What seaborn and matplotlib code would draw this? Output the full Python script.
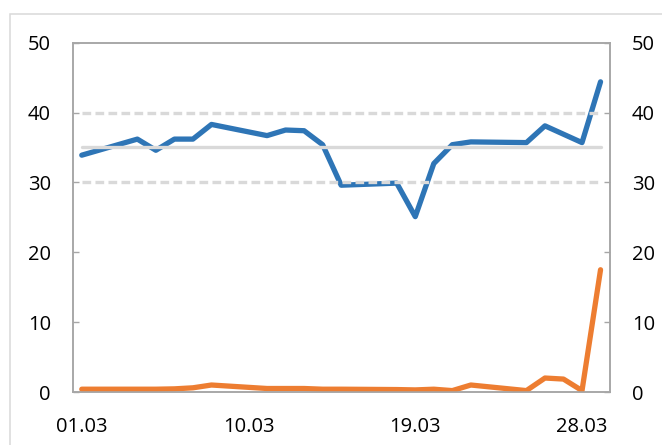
import matplotlib
matplotlib.use("Agg")
import matplotlib.pyplot as plt
import seaborn as sns
import pandas as pd
from matplotlib.patches import Rectangle

# trading days of March (day of month)
days = [1, 4, 5, 6, 7, 8, 11, 12, 13, 14, 15, 18, 19, 20, 21, 22, 25, 26, 27, 28, 29]
blue_vals = [33.9, 36.2, 34.6, 36.2, 36.2, 38.3, 36.7, 37.5, 37.4, 35.4, 29.6,
             29.9, 25.1, 32.7, 35.4, 35.8, 35.7, 38.1, 36.9, 35.7, 44.4]
orange_vals = [0.4, 0.4, 0.4, 0.45, 0.6, 1.0, 0.5, 0.5, 0.5, 0.4, 0.4,
               0.35, 0.3, 0.4, 0.2, 1.0, 0.2, 2.0, 1.85, 0.2, 17.5]
mean_level = 35.0
band_low = 30.0
band_high = 40.0

tick_days = [1, 10, 19, 28]
tick_labels = ["01.03", "10.03", "19.03", "28.03"]
y_ticks = [0, 10, 20, 30, 40, 50]

df = pd.DataFrame({"day": days, "blue": blue_vals, "orange": orange_vals})
df["mean"] = mean_level
df["low"] = band_low
df["high"] = band_high

sns.set_style("white")
plt.rcParams["font.family"] = ["Open Sans", "DejaVu Sans"]
plt.rcParams["font.size"] = 14.5

spine_col = "#a6a6a6"
grey = "#d9d9d9"

fig = plt.figure(figsize=(6.62, 4.45), dpi=100)
ax = fig.add_axes([72.5 / 662, 1 - 392 / 445, (609.8 - 72.5) / 662, (392 - 42.7) / 445])

sns.lineplot(data=df, x="day", y="blue", ax=ax, color="#2e75b6", linewidth=3.8, zorder=2)
sns.lineplot(data=df, x="day", y="mean", ax=ax, color=grey, linewidth=2.4, zorder=3)
# dashed band lines
for col in ["low", "high"]:
    sns.lineplot(data=df, x="day", y=col, ax=ax, color=grey, linewidth=2.4, zorder=3)
    ax.lines[-1].set_dashes((2.6, 1.3))

ax2 = ax.twinx()
sns.lineplot(data=df, x="day", y="orange", ax=ax2, color="#ed7d31", linewidth=3.8)

for a in (ax, ax2):
    a.set_ylim(0, 50)
    a.set_xlim(0.5, 29.5)
    a.set_yticks(y_ticks)
    a.set_xlabel("")
    a.set_ylabel("")
    for s in a.spines.values():
        s.set_color(spine_col)
        s.set_linewidth(1.1)
        s.set_visible(True)

ax.tick_params(axis="y", direction="in", length=4, width=1, color=spine_col, pad=15.5,
               labelcolor="black")
ax2.tick_params(axis="y", direction="in", length=4, width=1, color=spine_col, pad=15.8,
                labelcolor="black")

# ticks at day boundaries, labels at day centres
ax.set_xticks([d - 0.5 for d in tick_days])
ax.set_xticklabels([])
ax.tick_params(axis="x", which="major", direction="in", length=4, width=1, color=spine_col)
ax.set_xticks(tick_days, minor=True)
ax.set_xticklabels(tick_labels, minor=True)
ax.tick_params(axis="x", which="minor", length=0, pad=18, labelcolor="black")
ax2.tick_params(axis="x", which="both", bottom=False, top=False)

# outer chart border
fig.patches.append(Rectangle((10 / 662, -0.5), 2, 1.5 - 14 / 445, transform=fig.transFigure,
                             fill=False, edgecolor=grey, linewidth=1.1))

fig.savefig("out.png", dpi=100)
